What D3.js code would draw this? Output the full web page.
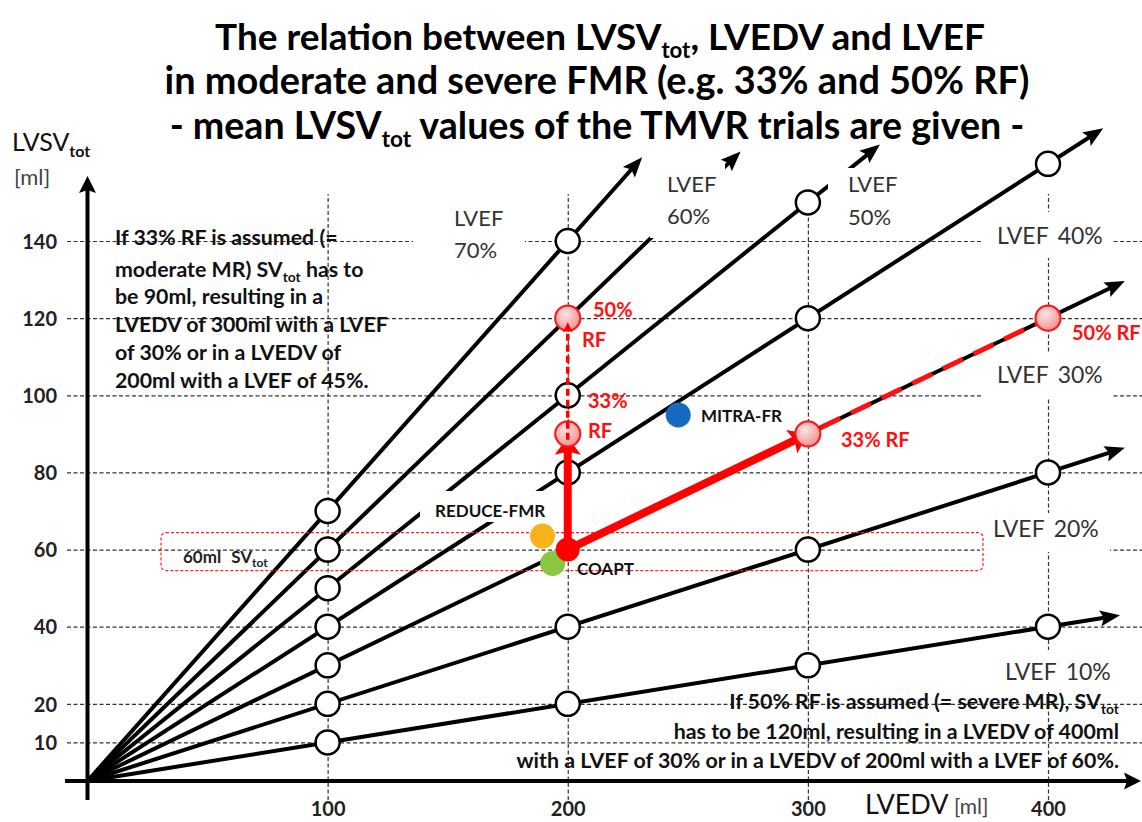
<!DOCTYPE html>
<html>
<head>
<meta charset="utf-8">
<script src="https://cdn.jsdelivr.net/npm/d3@7/dist/d3.min.js"></script>
<style>
html,body{margin:0;padding:0;background:#fff;}
svg{display:block;}
text{font-family:Lato,"Open Sans","Noto Sans",sans-serif;}
</style>
</head>
<body>
<svg id="chart" width="1142" height="822"></svg>
<script>
// ---------------- data ----------------
const efLevels = [10, 20, 30, 40, 50, 60, 70];             // LVEF iso-lines (%)
const arrowTipEDV = [430, 432, 432, 423, 330, 272, 231];   // LVEDV where each line's arrow ends
const yTicks = [10, 20, 40, 60, 80, 100, 120, 140];
const xTicks = [100, 200, 300, 400];
const openEDV = [100,100,100,100,100,100,100, 200,200,200,200,200, 300,300,300,300, 400,400,400];
const openSV  = [ 10, 20, 30, 40, 50, 60, 70,  20, 40, 80,100,140,  30, 60,120,150,  40, 80,160];
const rfEDV = [200, 200, 300, 400];
const rfSV  = [ 90, 120,  90, 120];
const startEDV = 200, startSV = 60;
const moderateEDV = [200, 300], moderateSV = [90, 90];
const severeEDV = [200, 400], severeSV = [120, 120];
const trialNames  = ["MITRA-FR", "REDUCE-FMR", "COAPT"];
const trialEDV    = [246, 189.5, 193.7];
const trialSV     = [94.9, 63.5, 56.4];
const trialColors = ["#1769c2", "#f8b31a", "#8cc641"];
const bandSV = 60;
const lvefLabelText = ["LVEF 10%", "LVEF 20%", "LVEF 30%", "LVEF 40%", "LVEF 50%", "LVEF 60%", "LVEF 70%"];
const titleLines = [
  "The relation between LVSV_{tot}, LVEDV and LVEF",
  "in moderate and severe FMR (e.g. 33% and 50% RF)",
  "- mean LVSV_{tot} values of the TMVR trials are given -"
];
const leftNote = [
  "If 33% RF is assumed (=",
  "moderate MR) SV_{tot} has to",
  "be 90ml, resulting in a",
  "LVEDV of 300ml with a LVEF",
  "of 30% or in a LVEDV of",
  "200ml with a LVEF of 45%."
];
const rightNote = [
  "If 50% RF is assumed (= severe MR), SV_{tot}",
  "has to be 120ml, resulting in a LVEDV of 400ml",
  "with a LVEF of 30% or in a LVEDV of 200ml with a LVEF of 60%."
];

// ---------------- setup ----------------
const W = 1142, H = 822;
const svg = d3.select("#chart");
svg.append("rect").attr("width", W).attr("height", H).attr("fill", "#fff");
const x = d3.scaleLinear().domain([0, 400]).range([87.5, 1048]);
const y = d3.scaleLinear().domain([0, 140]).range([781, 241]);
const FONT = 'Lato,"Open Sans","Noto Sans",sans-serif';

const defs = svg.append("defs");
const grad = defs.append("radialGradient").attr("id", "pink")
  .attr("cx", "40%").attr("cy", "35%").attr("r", "70%");
grad.append("stop").attr("offset", "0%").attr("stop-color", "#fde3e3");
grad.append("stop").attr("offset", "100%").attr("stop-color", "#f08d8d");

function rich(g, str, xx, yy, o) {
  const fs = o.fs, sub = o.subScale || 0.62, sdy = o.subDy || 0.28;
  const t = g.append("text").attr("x", xx).attr("y", yy)
    .attr("font-family", FONT).attr("font-size", fs)
    .attr("font-weight", o.fw || 400).attr("fill", o.fill || "#000")
    .attr("text-anchor", o.anchor || "start");
  const parts = str.split(/_\{(.*?)\}/);
  let inSub = false;
  parts.forEach((p, i) => {
    if (i % 2 === 1) {
      t.append("tspan").attr("font-size", fs * sub).attr("dy", fs * sdy).text(p);
      inSub = true;
    } else if (p.length) {
      const ts = t.append("tspan").text(p);
      if (inSub) { ts.attr("dy", -fs * sdy); inSub = false; }
    }
  });
  return t;
}
function fitSize(g, str, target, o) {
  const t = rich(g, str, 0, -1000, o);
  const w = t.node().getComputedTextLength();
  t.remove();
  return o.fs * target / w;
}
function arrowHead(g, tx, ty, ang, len, hw, color) {
  g.append("path")
    .attr("d", `M0,0 L${-len},${-hw} L${-len * 0.82},0 L${-len},${hw} Z`)
    .attr("transform", `translate(${tx},${ty}) rotate(${ang * 180 / Math.PI})`)
    .attr("fill", color);
}

// ---------------- gridlines via axes ----------------
const gy = svg.append("g").attr("transform", "translate(67,0)")
  .call(d3.axisLeft(y).tickValues(yTicks).tickSize(-(W - 67)).tickPadding(10));
gy.select(".domain").remove();
gy.selectAll(".tick line").attr("stroke", "#333").attr("stroke-width", 1.2).attr("stroke-dasharray", "4,2.5");
gy.selectAll(".tick text").attr("font-family", FONT).attr("font-size", 20).attr("font-weight", 700)
  .attr("fill", "#222").attr("dy", "0.36em");

const gx = svg.append("g").attr("transform", "translate(0,800)")
  .call(d3.axisBottom(x).tickValues(xTicks).tickSize(-(800 - 194)).tickPadding(0));
gx.select(".domain").remove();
gx.selectAll(".tick line").attr("stroke", "#333").attr("stroke-width", 1.2).attr("stroke-dasharray", "4,2.5");
gx.selectAll(".tick text").attr("font-family", FONT).attr("font-size", 20).attr("font-weight", 700)
  .attr("fill", "#222").attr("y", 16).attr("dy", 0);

// ---------------- LVEF lines ----------------
const gLines = svg.append("g");
const tips = efLevels.map((ef, i) => {
  const e = arrowTipEDV[i];
  const tx = x(e), ty = y(e * ef / 100);
  const ox = x(0), oy = y(0);
  const ang = Math.atan2(ty - oy, tx - ox);
  return {tx, ty, ox, oy, ang};
});
tips.forEach(d => {
  const back = 20 * 0.8;
  gLines.append("line").attr("x1", d.ox).attr("y1", d.oy)
    .attr("x2", d.tx - back * Math.cos(d.ang)).attr("y2", d.ty - back * Math.sin(d.ang))
    .attr("stroke", "#000").attr("stroke-width", 4);
});

// white label boxes hiding parts of lines / gridlines
const boxes = [
  [413, 200, 112, 62],   // LVEF 70%
  [650, 160, 75, 78],    // LVEF 60%
  [828, 168, 77, 67],    // LVEF 50%
  [982, 212, 131, 46],   // LVEF 40%
  [983, 352, 130, 46],   // LVEF 30%
  [980, 513, 130, 39],   // LVEF 20%
  [1000, 650, 115, 40],  // LVEF 10%
  [420, 491, 132, 31]    // REDUCE-FMR
];
boxes.forEach(b => svg.append("rect").attr("x", b[0]).attr("y", b[1]).attr("width", b[2]).attr("height", b[3]).attr("fill", "#fff"));

const gHeads = svg.append("g");
tips.forEach(d => arrowHead(gHeads, d.tx, d.ty, d.ang, 20, 8, "#000"));

// ---------------- axes lines ----------------
svg.append("line").attr("x1", x(0)).attr("y1", 800).attr("x2", x(0)).attr("y2", 190)
  .attr("stroke", "#000").attr("stroke-width", 4);
arrowHead(svg, x(0), 176, -Math.PI / 2, 17, 8.5, "#000");
svg.append("line").attr("x1", 65).attr("y1", y(0)).attr("x2", 1128).attr("y2", y(0))
  .attr("stroke", "#000").attr("stroke-width", 4);
arrowHead(svg, 1141, y(0), 0, 17, 8.5, "#000");

// ---------------- 60 ml band ----------------
svg.append("rect").attr("x", 161).attr("y", y(bandSV) - 17).attr("width", 983 - 161).attr("height", 38)
  .attr("rx", 5).attr("fill", "none").attr("stroke", "#ff2020").attr("stroke-width", 1.2)
  .attr("stroke-dasharray", "3,2");
{
  const t = svg.append("text").attr("x", 183).attr("y", 563).attr("font-family", FONT)
    .attr("font-size", 17).attr("font-weight", 700).attr("fill", "#222");
  t.append("tspan").text("60ml");
  t.append("tspan").attr("dx", 10).text("SV");
  t.append("tspan").attr("font-size", 12).attr("dy", 4).text("tot");
}

// ---------------- open circles ----------------
const gC = svg.append("g");
openEDV.forEach((e, i) => {
  gC.append("circle").attr("cx", x(e)).attr("cy", y(openSV[i])).attr("r", 12)
    .attr("fill", "#fff").attr("stroke", "#000").attr("stroke-width", 2.5);
});

// ---------------- red dashed along 30% line ----------------
svg.append("line")
  .attr("x1", x(moderateEDV[1])).attr("y1", y(moderateSV[1]))
  .attr("x2", x(severeEDV[1])).attr("y2", y(severeSV[1]))
  .attr("stroke", "#ff1010").attr("stroke-width", 5).attr("stroke-dasharray", "22,12")
  .attr("stroke-dashoffset", -14);

// ---------------- thick red arrows ----------------
const sx = x(startEDV), sy = y(startSV);
moderateEDV.forEach((e, i) => {
  let tx = x(e), ty = y(moderateSV[i]);
  const ang = Math.atan2(ty - sy, tx - sx);
  if (i === 0) ty += 3;
  const back = 18 * 0.8;
  svg.append("line").attr("x1", sx).attr("y1", sy)
    .attr("x2", tx - back * Math.cos(ang)).attr("y2", ty - back * Math.sin(ang))
    .attr("stroke", "#ff0000").attr("stroke-width", 8);
  arrowHead(svg, tx, ty, ang, 18, 13, "#ff0000");
});

// ---------------- RF circles ----------------
rfEDV.forEach((e, i) => {
  svg.append("circle").attr("cx", x(e)).attr("cy", y(rfSV[i])).attr("r", 12.5)
    .attr("fill", "url(#pink)").attr("stroke", "#ff1a1a").attr("stroke-width", 2.2);
});

// dashed red vertical arrow 33% -> 50%
{
  const x0 = x(severeEDV[0]), y0 = y(moderateSV[0]) + 6, y1 = y(severeSV[0]) + 4;
  svg.append("line").attr("x1", x0).attr("y1", y0).attr("x2", x0).attr("y2", y1 + 8)
    .attr("stroke", "#ff0000").attr("stroke-width", 3.5).attr("stroke-dasharray", "7,4");
  arrowHead(svg, x0, y1, -Math.PI / 2, 10, 5, "#ff0000");
}

// ---------------- trial points ----------------
trialNames.forEach((n, i) => {
  svg.append("circle").attr("cx", x(trialEDV[i])).attr("cy", y(trialSV[i])).attr("r", 12.5)
    .attr("fill", trialColors[i]);
});
svg.append("circle").attr("cx", sx).attr("cy", sy).attr("r", 12).attr("fill", "#ff0000");

const trialLabelPos = [[701, 422], [435, 517], [577, 575]];
trialNames.forEach((n, i) => {
  svg.append("text").attr("x", trialLabelPos[i][0]).attr("y", trialLabelPos[i][1])
    .attr("font-family", FONT).attr("font-size", 17).attr("font-weight", 700).attr("fill", "#111")
    .text(n);
});

// ---------------- red labels ----------------
const redLabels = [
  ["50%", 593, 317], ["RF", 582, 347], ["33%", 588, 408], ["RF", 588, 438],
  ["33% RF", 841, 447], ["50% RF", 1072, 340]
];
redLabels.forEach(d => svg.append("text").attr("x", d[1]).attr("y", d[2])
  .attr("font-family", FONT).attr("font-size", 20).attr("font-weight", 700).attr("fill", "#ff1010").text(d[0]));

// ---------------- LVEF labels ----------------
// two-line labels for 70/60/50 %, one-line labels for 40..10 %
const twoLine = {70: [454, 226, 258], 60: [667, 192, 224], 50: [848, 192, 225]};
const oneLine = {40: [997, 244], 30: [997, 383], 20: [993, 537], 10: [1005, 680]};
efLevels.forEach((ef, i) => {
  const parts = lvefLabelText[i].split(" ");
  if (twoLine[ef]) {
    const p = twoLine[ef];
    svg.append("text").attr("x", p[0]).attr("y", p[1]).attr("font-family", FONT).attr("font-size", 22)
      .attr("fill", "#333").text(parts[0]);
    svg.append("text").attr("x", p[0]).attr("y", p[2]).attr("font-family", FONT).attr("font-size", 22)
      .attr("fill", "#333").text(parts[1]);
  } else {
    const p = oneLine[ef];
    const t = svg.append("text").attr("x", p[0]).attr("y", p[1]).attr("font-family", FONT).attr("font-size", 23)
      .attr("fill", "#333");
    t.append("tspan").text(parts[0]);
    t.append("tspan").attr("dx", 9).text(parts[1]);
  }
});

// ---------------- notes ----------------
const lfs = fitSize(svg, leftNote[3], 273, {fs: 19, fw: 700});
const leftBase = [245, 276.5, 304, 332, 360, 388];
leftNote.forEach((s, i) => rich(svg, s, 115, leftBase[i], {fs: lfs, fw: 700, fill: "#111", subScale: 0.65, subDy: 0.25}));

const rfs = fitSize(svg, rightNote[2], 603, {fs: 19, fw: 700});
const rightBase = [709, 739, 768];
rightNote.forEach((s, i) => rich(svg, s, 1119, rightBase[i], {fs: rfs, fw: 700, fill: "#111", anchor: "end", subScale: 0.65, subDy: 0.25}));

// ---------------- titles ----------------
const titleW = [770, 865, 855], titleX = [600, 597, 597], titleY = [50, 94, 139];
titleLines.forEach((s, i) => {
  const o = {fs: 34, fw: 700, fill: "#000", anchor: "middle", subScale: 0.6, subDy: 0.22};
  o.fs = fitSize(svg, s, titleW[i], o);
  rich(svg, s, titleX[i], titleY[i], o);
});

// ---------------- axis titles ----------------
{
  const t = svg.append("text").attr("x", 12).attr("y", 151).attr("font-family", FONT).attr("fill", "#111");
  t.append("tspan").attr("font-size", 25).text("LVSV");
  t.append("tspan").attr("font-size", 16).attr("font-weight", 700).attr("dy", 6).text("tot");
}
svg.append("text").attr("x", 14).attr("y", 185).attr("font-family", FONT).attr("font-size", 22)
  .attr("fill", "#444").text("[ml]");
const xl = svg.append("text").attr("x", 865).attr("y", 814).attr("font-family", FONT).attr("fill", "#111");
xl.append("tspan").attr("font-size", 27).text("LVEDV");
xl.append("tspan").attr("font-size", 21).attr("fill", "#444").text(" [ml]");
</script>
</body>
</html>
